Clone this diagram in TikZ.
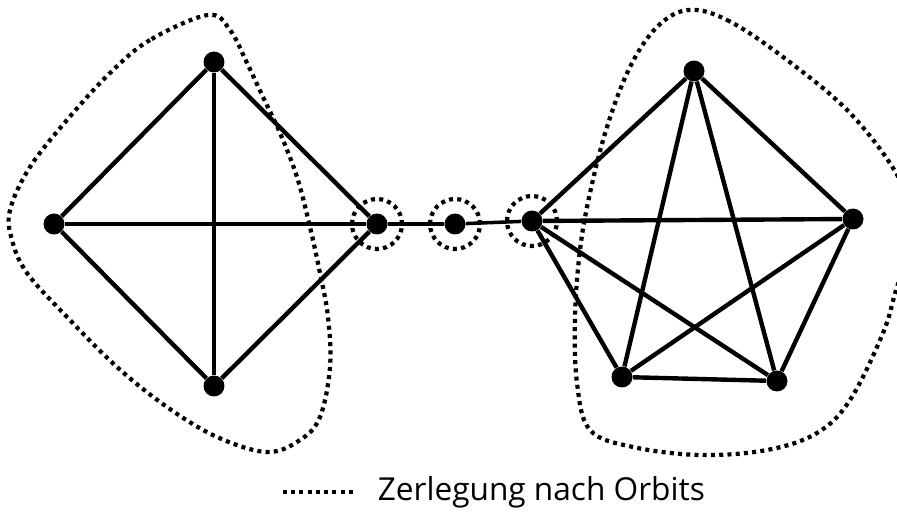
\documentclass[tikz,border=0pt]{standalone}
\usepackage{fontspec}
\setmainfont{Open Sans}
\usetikzlibrary{positioning}

\begin{document}
\begin{tikzpicture}[x=0.02cm,y=-0.02cm,
    vertex/.style={circle,fill,inner sep=0pt,minimum size=0.42cm},
    edge/.style={line width=2.5pt},
    orbit/.style={line width=2.4pt,dash pattern=on 0.08cm off 0.085cm}]
  \useasboundingbox (0,0) rectangle (897,513);
  % left part: K4
  \node[vertex] (a1) at (214,62) {};
  \node[vertex] (a2) at (54,224) {};
  \node[vertex] (a3) at (377,224) {};
  \node[vertex] (a4) at (214,386) {};
  % bridge vertex
  \node[vertex] (m) at (455,224) {};
  % right part: K5
  \node[vertex] (b1) at (532,221) {};
  \node[vertex] (b2) at (694,71) {};
  \node[vertex] (b3) at (853,219) {};
  \node[vertex] (b4) at (622,377) {};
  \node[vertex] (b5) at (777,381) {};
  \foreach \u/\v in {a1/a2,a1/a3,a1/a4,a2/a3,a2/a4,a3/a4}
    \draw[edge] (\u) -- (\v);
  \foreach \u/\v in {b1/b2,b1/b3,b1/b4,b1/b5,b2/b3,b2/b4,b2/b5,b3/b4,b3/b5,b4/b5}
    \draw[edge] (\u) -- (\v);
  \draw[edge,line width=2pt] (a3) -- (m) -- (b1);
  % orbits
  \draw[orbit] (a3) circle[radius=0.5cm];
  \draw[orbit] (m) circle[radius=0.5cm];
  \draw[orbit] (b1) circle[radius=0.5cm];
  \draw[orbit] plot[smooth cycle,tension=0.6] coordinates {
    (208,15) (150,40) (110,73) (67,120) (30,167) (10,210) (12,240) (27,273)
    (67,317) (117,367) (167,407) (217,437) (267,452) (300,440) (320,417)
    (330,367) (328,317) (320,273) (310,227) (297,177) (280,133) (263,97)
    (247,63) (230,30)};
  \draw[orbit] plot[smooth cycle,tension=0.6] coordinates {
    (688,10) (727,20) (783,57) (850,113) (900,180) (915,235) (897,287)
    (883,333) (850,400) (817,433) (767,450) (700,455) (633,447) (590,430)
    (577,383) (575,317) (580,250) (590,193) (607,127) (630,67) (657,27)};
  % legend
  \coordinate (l1) at (283,492);
  \coordinate (l2) at (355,492);
  \draw[orbit] (l1) -- (l2);
  \node[right=0.45cm of l2,inner sep=0pt,font=\fontsize{18}{20}\selectfont] (legend) {Zerlegung nach Orbits};
\end{tikzpicture}
\end{document}
